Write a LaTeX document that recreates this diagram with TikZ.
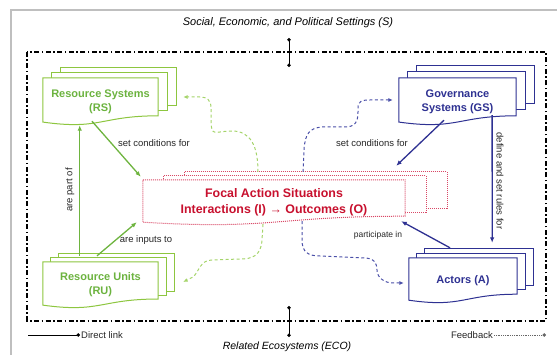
\documentclass[tikz,border=0pt]{standalone}
\usepackage{fontspec}
\setmainfont{Liberation Sans}
\usetikzlibrary{arrows.meta,calc}
\pgfdeclarelayer{bg}
\pgfsetlayers{bg,main}
\definecolor{gbox}{HTML}{8DC63F}
\definecolor{gtext}{HTML}{6CB33F}
\definecolor{garr}{HTML}{6EB43F}
\definecolor{gdash}{HTML}{A5D46A}
\definecolor{navy}{HTML}{2E3192}
\definecolor{bdash}{HTML}{4A4FA8}
\definecolor{crim}{HTML}{C8102E}
\definecolor{pinkline}{HTML}{D94866}
\tikzset{
  boxtxt/.style={font=\fontsize{11}{14}\selectfont\bfseries, align=center, inner sep=0pt},
  lbl/.style={font=\fontsize{9.5}{11}\selectfont, inner sep=1pt, text=black!85},
  conn/.style={line width=1.3pt, -{Latex[length=5.5pt,width=4.5pt]}},
  fbline/.style={line width=1pt, dash pattern=on 3pt off 2.5pt, -{Latex[length=4.5pt,width=4pt]}},
  ddframe/.style={line width=1.3pt, dash pattern=on 5pt off 2.5pt on 1.5pt off 2.5pt},
  dotend/.style={line width=0.8pt, {Circle[length=3.5pt]}-{Circle[length=3.5pt]}}
}
\newcommand\docstack[4]{%
  \begin{pgfonlayer}{bg}
  \foreach \k in {2,1}{
    \draw[#2, fill=white] ($(#1.north west)+(\k*#3,-\k*#4)$) rectangle ($(#1.north east)!0.802!(#1.south east)+(\k*#3,-\k*#4)$);
  }
  \draw[#2, fill=white] (#1.north west) -- (#1.north east) -- ($(#1.north east)!0.802!(#1.south east)$)
    .. controls ($(#1.north)!0.802!(#1.south)$) and ($(#1.north)!1.107!(#1.south)$) .. ($(#1.north west)!0.934!(#1.south west)$) -- cycle;
  \end{pgfonlayer}}
\begin{document}
\begin{tikzpicture}[x=1pt,y=-1pt]
\useasboundingbox (0,0) rectangle (557,355);
% outer light frame
\draw[black!25, line width=1.2pt] (11,358) -- (11,10) -- (560,10);
% dash-dot frame
\draw[ddframe] (27,52) rectangle (546,321);

% titles
\node[font=\fontsize{11}{13}\selectfont\itshape] (ttl) at (288,23) {Social, Economic, and Political Settings (S)};
\node[font=\fontsize{10.5}{13}\selectfont\itshape] (btl) at (287,347) {Related Ecosystems (ECO)};
\coordinate (st1) at (289,38); \coordinate (st2) at (289,67);
\draw[dotend] (st1) -- (st2);
\coordinate (sb1) at (289,306); \coordinate (sb2) at (289,337);
\draw[dotend] (sb1) -- (sb2);

% boxes
\node[boxtxt, text=gtext, minimum width=115pt, minimum height=47pt] (rs) at (100.5,101.5) {Resource Systems\\(RS)};
\node[boxtxt, text=gtext, minimum width=115pt, minimum height=46pt] (ru) at (100.5,285) {Resource Units\\(RU)};
\node[boxtxt, text=navy, minimum width=117pt, minimum height=47pt] (gs) at (457.5,101.5) {Governance\\Systems (GS)};
\node[boxtxt, text=navy, minimum width=108pt, minimum height=45pt] (ac) at (463,280.5) {Actors (A)};
\node[font=\fontsize{12.4}{16}\selectfont\bfseries, text=crim, align=center, inner sep=0pt,
      minimum width=262pt, minimum height=45pt] (fo) at (274,202.5) {Focal Action Situations\\Interactions (I) → Outcomes (O)};

\docstack{rs}{gbox, line width=1pt}{9}{5}
\docstack{ru}{gbox, line width=1pt}{8}{4}
\docstack{gs}{navy, line width=1pt}{9}{6}
\docstack{ac}{navy, line width=1pt}{8}{4.5}
\docstack{fo}{pinkline, line width=1pt, densely dotted}{21}{4}

% direct links
\draw[conn, garr] ($(rs.south west)!0.426!(rs.south east)+(0,-4)$) -- ($(fo.north west)+(-2,-3)$);
\draw[conn, garr] ($(ru.north west)!0.47!(ru.north east)+(0,-6)$) -- ($(fo.south west)+(-6,-3)$);
\draw[conn, garr] ($(ru.north west)!0.32!(ru.north east)+(0,-6)$) -- ($(rs.south west)!0.32!(rs.south east)+(0,0)$);
\draw[conn, navy] ($(gs.south west)!0.385!(gs.south east)+(0,-5)$) -- ($(fo.north east)+(-9,-14)$);
\draw[conn, navy] ($(gs.south west)!0.795!(gs.south east)+(0,-10)$) -- ($(ac.north west)!0.769!(ac.north east)+(0,-15)$);
\draw[conn, navy] ($(ac.north west)!0.38!(ac.north east)+(0,-10)$) -- ($(fo.south east)+(-4,-4)$);

% link labels
\node[lbl] (l1) at (154,143) {set conditions for};
\node[lbl] (l2) at (372,143) {set conditions for};
\node[lbl] (l3) at (146,240) {are inputs to};
\node[lbl, font=\fontsize{8.5}{10}\selectfont] (l4) at (378,235) {participate in};
\node[lbl, rotate=90] (l5) at (70,190) {are part of};
\node[lbl, rotate=-90] (l6) at (500,181) {define and set rules for};

% feedback links
\draw[fbline, gdash] ($(fo.north west)!0.439!(fo.north east)+(0,-8)$)
  .. controls (258,145) and (250,131) .. (232,131)
  .. controls (215,131) and (211,138) .. (211,120) -- (211,108)
  .. controls (211,100) and (207,97) .. (200,97) -- ($(rs.east)+(25,-4.5)$);
\draw[fbline, gdash] ($(fo.south)+(-11,-1)$) -- (262,240)
  .. controls (261,256) and (252,259) .. (240,259) -- (212,260)
  .. controls (200,260) and (199,272) .. (193,277) -- ($(ru.east)+(25,-3)$);
\draw[fbline, bdash] ($(fo.north)+(29,-8)$) -- (304,150)
  .. controls (305,133) and (310,128) .. (322,127) -- (345,127)
  .. controls (355,127) and (358,122) .. (358,112) -- (358,108)
  .. controls (358,101) and (362,100) .. (370,100) -- ($(gs.west)+(-6,-1.5)$);
\draw[fbline, bdash] ($(fo.south)+(28,-4)$) -- (302,240)
  .. controls (302,252) and (308,256) .. (320,256) -- (364,258)
  .. controls (374,258) and (377,263) .. (377,270)
  .. controls (377,278) and (385,283) .. (393,283) -- ($(ac.west)+(-5,2.5)$);

% legend
\coordinate (dls) at (28,335);
\node[lbl, anchor=west] (dl) at (80,335) {Direct link};
\draw[line width=0.8pt, -{Circle[length=3.5pt]}] (dls) -- (dl.west);
\node[lbl, anchor=east] (fbk) at (494,335) {Feedback};
\coordinate (fbe) at (546,335);
\draw[line width=0.8pt, black!60, densely dotted, -{Circle[length=3.5pt]}] (fbk.east) -- (fbe);
\end{tikzpicture}
\end{document}
